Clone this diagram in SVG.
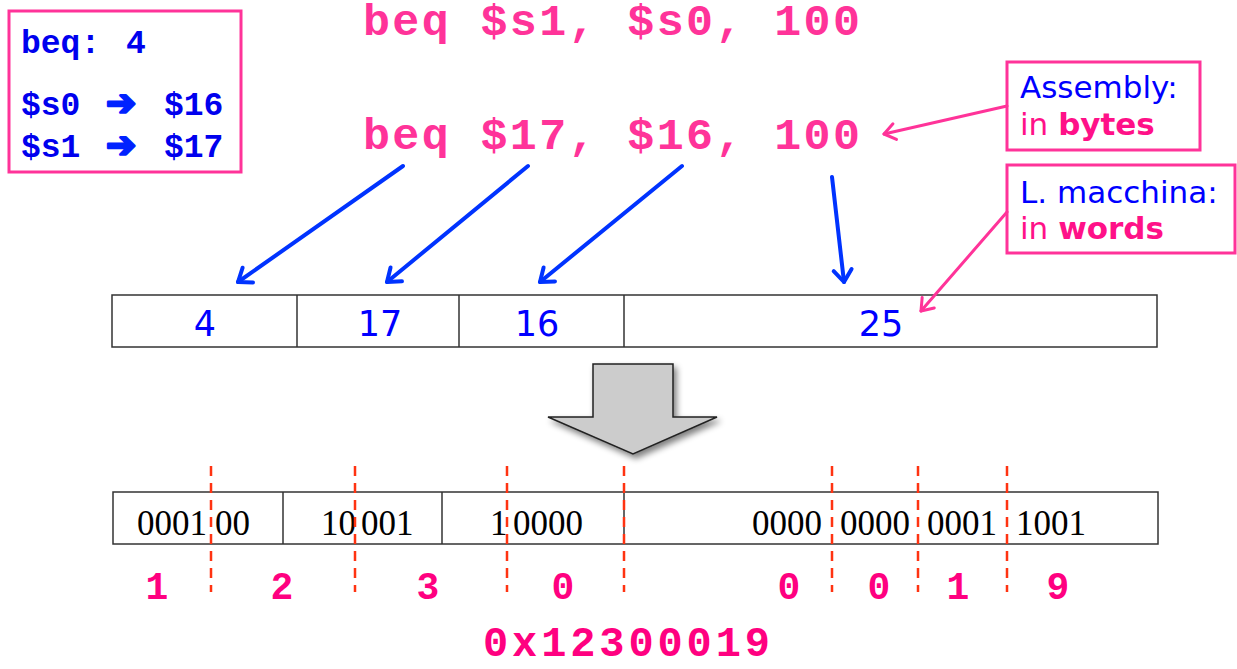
<svg xmlns="http://www.w3.org/2000/svg" width="1237" height="669" viewBox="0 0 1237 669">
  <style>
    .mono { font-family: "Liberation Mono", "Courier New", monospace; font-weight: bold; }
    .sans { font-family: "DejaVu Sans", Verdana, sans-serif; }
    .serif { font-family: "Liberation Serif", "Times New Roman", serif; }
    .pinkbox { fill: #ffffff; stroke: #ff3399; stroke-width: 3; }
    .cell { fill: #ffffff; stroke: #333333; stroke-width: 1.5; }
    .sep { stroke: #333333; stroke-width: 1.5; }
    .blue-arrow { stroke: #0033ff; stroke-width: 4; fill: none; stroke-linecap: round; }
    .pink-arrow { stroke: #ff3399; stroke-width: 3; fill: none; stroke-linecap: round; }
    .cut { stroke: #ff3311; stroke-width: 2.5; stroke-dasharray: 10 7; fill: none; }
    .num { fill: #0000ff; font-size: 35px; text-anchor: middle; }
    .bits { fill: #000000; font-size: 35px; }
    .hex { fill: #ff0080; font-size: 38px; text-anchor: middle; }
    .legend { font-size: 33px; fill: #0000ee; }
    .maparrow { font-family: "DejaVu Sans", sans-serif; font-weight: bold; font-size: 36px; fill: #0022ff; stroke: #0022ff; stroke-width: 2.5; stroke-linejoin: round; }
  </style>
  <defs>
    <marker id="head-blue" markerUnits="userSpaceOnUse" markerWidth="30" markerHeight="30" refX="15" refY="15" orient="auto" viewBox="0 0 30 30">
      <path d="M3,6 L15,15 L3,24" fill="none" stroke="#0033ff" stroke-width="4" stroke-linecap="round" stroke-linejoin="round"/>
    </marker>
    <marker id="head-pink" markerUnits="userSpaceOnUse" markerWidth="30" markerHeight="30" refX="15" refY="15" orient="auto" viewBox="0 0 30 30">
      <path d="M4,7 L15,15 L4,23" fill="none" stroke="#ff3399" stroke-width="3" stroke-linecap="round" stroke-linejoin="round"/>
    </marker>
    <filter id="soft-shadow" x="-20%" y="-20%" width="150%" height="150%">
      <feGaussianBlur in="SourceAlpha" stdDeviation="3"/>
      <feOffset dx="3" dy="4" result="blur"/>
      <feComponentTransfer><feFuncA type="linear" slope="0.5"/></feComponentTransfer>
      <feMerge><feMergeNode/><feMergeNode in="SourceGraphic"/></feMerge>
    </filter>
  </defs>

  <!-- register mapping legend -->
  <g id="legend">
    <rect class="pinkbox" x="9" y="11" width="232" height="161"/>
    <text class="mono legend" x="21" y="53">beq:<tspan x="126">4</tspan></text>
    <text class="mono legend" x="21" y="115">$s0</text>
    <text class="maparrow" x="106" y="115">➔</text>
    <text class="mono legend" x="164" y="115">$16</text>
    <text class="mono legend" x="21" y="157">$s1</text>
    <text class="maparrow" x="106" y="157">➔</text>
    <text class="mono legend" x="164" y="157" fill="#0022ff">$17</text>
  </g>

  <!-- assembly source lines -->
  <g id="asm-symbolic">
    <text class="mono" x="363" y="35" font-size="45" fill="#ff3399" textLength="497" lengthAdjust="spacing">beq $s1, $s0, 100</text>
  </g>
  <g id="asm-numeric">
    <text class="mono" x="363" y="149" font-size="45" fill="#ff3399" textLength="497" lengthAdjust="spacing">beq $17, $16, 100</text>
  </g>

  <!-- callouts -->
  <g id="note-bytes">
    <rect class="pinkbox" x="1007" y="62" width="193" height="88"/>
    <text class="sans" x="1020" y="98" font-size="31" fill="#0000ff">Assembly:</text>
    <text class="sans" x="1020" y="135" font-size="31" fill="#ff1188">in <tspan font-weight="bold">bytes</tspan></text>
  </g>
  <g id="note-words">
    <rect class="pinkbox" x="1007" y="165" width="228" height="88"/>
    <text class="sans" x="1020" y="203" font-size="31" fill="#0000ff">L. macchina:</text>
    <text class="sans" x="1020" y="239" font-size="31" fill="#ff1188">in <tspan font-weight="bold">words</tspan></text>
  </g>

  <!-- instruction fields (decimal) -->
  <g id="fields-decimal">
    <rect class="cell" x="112" y="295" width="1045" height="52"/>
    <line class="sep" x1="297" y1="295" x2="297" y2="347"/>
    <line class="sep" x1="459" y1="295" x2="459" y2="347"/>
    <line class="sep" x1="624" y1="295" x2="624" y2="347"/>
    <text class="sans num" x="205" y="336">4</text>
    <text class="sans num" x="380" y="336">17</text>
    <text class="sans num" x="537" y="336">16</text>
    <text class="sans num" x="881" y="336">25</text>
  </g>

  <!-- conversion arrow -->
  <g id="convert" filter="url(#soft-shadow)">
    <path d="M593,364 L673,364 L673,417 L717,417 L633,454 L548,417 L593,417 Z" fill="#cccccc" stroke="#222222" stroke-width="1.5" stroke-linejoin="miter"/>
  </g>

  <!-- instruction fields (binary) -->
  <g id="fields-binary">
    <rect class="cell" x="113" y="492" width="1045" height="52"/>
    <line class="sep" x1="283" y1="492" x2="283" y2="544"/>
    <line class="sep" x1="442" y1="492" x2="442" y2="544"/>
    <line class="sep" x1="624" y1="492" x2="624" y2="544"/>
    <text class="serif bits" x="137" y="535">0001</text>
    <text class="serif bits" x="215" y="535">00</text>
    <text class="serif bits" x="321" y="535">10</text>
    <text class="serif bits" x="361" y="535">001</text>
    <text class="serif bits" x="490" y="535">1</text>
    <text class="serif bits" x="513" y="535">0000</text>
    <text class="serif bits" x="752" y="535">0000</text>
    <text class="serif bits" x="840" y="535">0000</text>
    <text class="serif bits" x="927" y="535">0001</text>
    <text class="serif bits" x="1016" y="535">1001</text>
  </g>

  <!-- nibble boundaries -->
  <g id="nibble-cuts">
    <line class="cut" x1="211" y1="466" x2="211" y2="592"/>
    <line class="cut" x1="355" y1="466" x2="355" y2="592"/>
    <line class="cut" x1="507" y1="466" x2="507" y2="592"/>
    <line class="cut" x1="624" y1="466" x2="624" y2="592"/>
    <line class="cut" x1="832" y1="466" x2="832" y2="592"/>
    <line class="cut" x1="918" y1="466" x2="918" y2="592"/>
    <line class="cut" x1="1007" y1="466" x2="1007" y2="592"/>
  </g>

  <!-- hex digits -->
  <g id="hex-digits">
    <text class="mono hex" x="157" y="599">1</text>
    <text class="mono hex" x="282" y="599">2</text>
    <text class="mono hex" x="428" y="599">3</text>
    <text class="mono hex" x="563" y="599">0</text>
    <text class="mono hex" x="789" y="599">0</text>
    <text class="mono hex" x="879" y="599">0</text>
    <text class="mono hex" x="958" y="599">1</text>
    <text class="mono hex" x="1058" y="599">9</text>
  </g>
  <g id="hex-word">
    <text class="mono" x="483" y="656" font-size="42" fill="#ff0080" textLength="287" lengthAdjust="spacing">0x12300019</text>
  </g>

  <!-- connectors -->
  <g id="connectors">
    <line class="blue-arrow" x1="403" y1="166" x2="238" y2="282" marker-end="url(#head-blue)"/>
    <line class="blue-arrow" x1="528" y1="166" x2="387" y2="282" marker-end="url(#head-blue)"/>
    <line class="blue-arrow" x1="682" y1="166" x2="540" y2="282" marker-end="url(#head-blue)"/>
    <line class="blue-arrow" x1="832" y1="177" x2="844" y2="282" marker-end="url(#head-blue)"/>
    <line class="pink-arrow" x1="1007" y1="106" x2="884" y2="134" marker-end="url(#head-pink)"/>
    <line class="pink-arrow" x1="1007" y1="212" x2="921" y2="311" marker-end="url(#head-pink)"/>
  </g>
</svg>
